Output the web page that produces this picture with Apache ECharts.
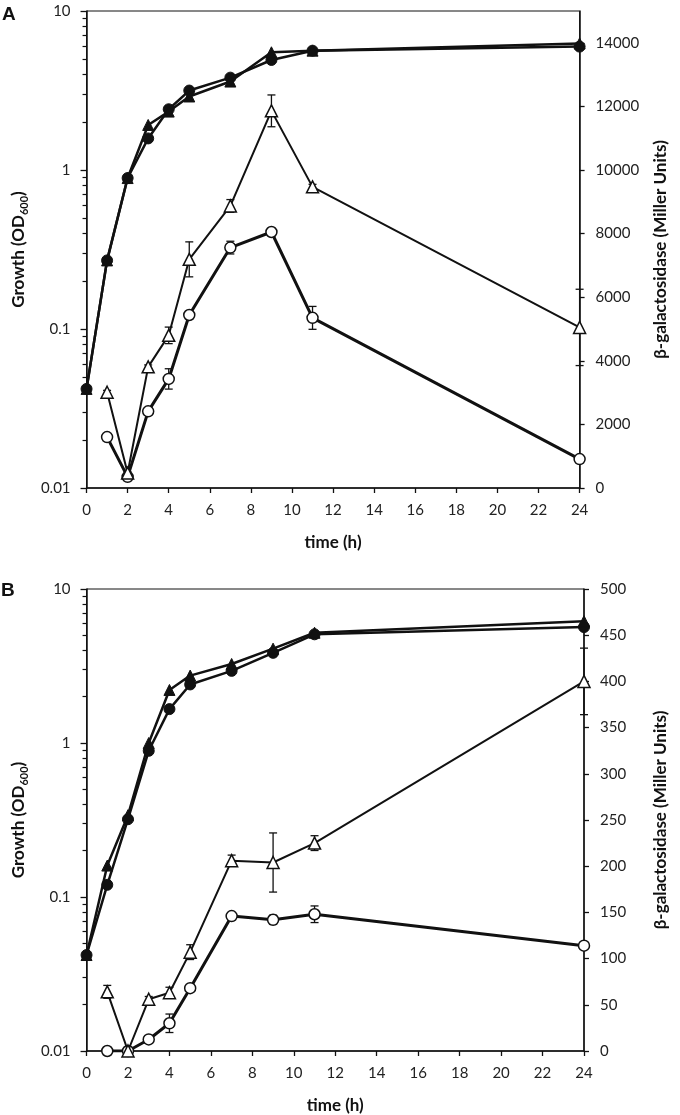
<!DOCTYPE html>
<html>
<head>
<meta charset="utf-8">
<script src="https://cdn.jsdelivr.net/npm/echarts@6/dist/echarts.min.js"></script>
<style>
html, body { margin: 0; padding: 0; background: #fff; }
#chart { width: 680px; height: 1115px; }
</style>
</head>
<body>
<div id="chart"></div>
<script>
// sampling times (h)
const times = [0, 1, 2, 3, 4, 5, 7, 9, 11, 24];
const bgalTimes = [1, 2, 3, 4, 5, 7, 9, 11, 24];

// panel A
const growthCircleA = [0.042, 0.27, 0.89, 1.58, 2.41, 3.16, 3.81, 4.92, 5.63, 5.97];
const growthTriangleA = [0.042, 0.27, 0.89, 1.92, 2.33, 2.9, 3.6, 5.5, 5.63, 6.25];
const bgalTriangleA = [3010, 470, 3810, 4800, 7190, 8870, 11860, 9470, 5050];
const bgalTriangleErrA = [60, 40, 60, 260, 550, 200, 500, 80, 1200];
const bgalCircleA = [1600, 350, 2410, 3430, 5440, 7560, 8050, 5350, 910];
const bgalCircleErrA = [80, 40, 50, 320, 60, 200, 50, 360, 50];

// panel B
const growthCircleB = [0.042, 0.12, 0.32, 0.89, 1.66, 2.4, 2.94, 3.85, 5.08, 5.66];
const growthTriangleB = [0.042, 0.16, 0.34, 1.0, 2.21, 2.74, 3.26, 4.1, 5.2, 6.18];
const bgalTriangleB = [64, 0, 56, 63, 107, 206, 204, 225, 400];
const bgalTriangleErrB = [7, 0, 3, 6, 8, 6, 32, 8, 36];
const bgalCircleB = [0, 0, 12.5, 30, 68, 146, 142, 148, 114];
const bgalCircleErrB = [0, 0, 2, 10, 3, 3, 5, 9, 3];

// tick values
const minorLogTicks = [0.02, 0.03, 0.04, 0.05, 0.06, 0.07, 0.08, 0.09,
  0.2, 0.3, 0.4, 0.5, 0.6, 0.7, 0.8, 0.9, 2, 3, 4, 5, 6, 7, 8, 9];
const rightTicksA = [0, 2000, 4000, 6000, 8000, 10000, 12000, 14000];
const rightTicksB = [0, 50, 100, 150, 200, 250, 300, 350, 400, 450, 500];

const FONT = 'Lato';
const INK = '#111';

const chart = echarts.init(document.getElementById('chart'));

const pairs = (xs, ys) => xs.map((x, i) => [x, ys[i]]);
const triples = (xs, ys, es) => xs.map((x, i) => [x, ys[i], es[i]]);

const labelStyle = { fontFamily: FONT, fontSize: 15, color: '#222' };
const nameStyle = {
  fontFamily: FONT, fontSize: 17, fontWeight: 'bold', color: INK, lineHeight: 22,
  rich: { s: { fontFamily: FONT, fontSize: 11, fontWeight: 'bold', color: INK, verticalAlign: 'bottom', lineHeight: 12 } },
};

function errorBars(p, data) {
  return {
    type: 'custom',
    xAxisIndex: p,
    yAxisIndex: p * 3 + 1,
    z: 1,
    silent: true,
    data,
    renderItem(params, api) {
      const x = api.value(0);
      const y = api.value(1);
      const e = api.value(2);
      const lo = api.coord([x, y - e]);
      const hi = api.coord([x, y + e]);
      const w = 4;
      const st = { stroke: INK, lineWidth: 1.3 };
      return {
        type: 'group',
        children: [
          { type: 'line', shape: { x1: lo[0], y1: lo[1], x2: hi[0], y2: hi[1] }, style: st },
          { type: 'line', shape: { x1: lo[0] - w, y1: lo[1], x2: lo[0] + w, y2: lo[1] }, style: st },
          { type: 'line', shape: { x1: hi[0] - w, y1: hi[1], x2: hi[0] + w, y2: hi[1] }, style: st },
        ],
      };
    },
  };
}

function panelSeries(p, gC, gT, bT, bTe, bC, bCe) {
  const filled = (data, symbol, size) => ({
    type: 'line', xAxisIndex: p, yAxisIndex: p * 3, data,
    symbol, symbolSize: size, showAllSymbol: true,
    itemStyle: { color: INK, borderColor: INK, borderWidth: 1 },
    lineStyle: { color: INK, width: 2.5 },
    z: 3,
  });
  const open = (data, symbol, size, width, z) => ({
    type: 'line', xAxisIndex: p, yAxisIndex: p * 3 + 1, data,
    symbol, symbolSize: size, showAllSymbol: true,
    itemStyle: { color: '#fff', borderColor: INK, borderWidth: 1.5 },
    lineStyle: { color: INK, width },
    z,
  });
  return [
    errorBars(p, triples(bgalTimes, bC, bCe)),
    errorBars(p, triples(bgalTimes, bT, bTe)),
    open(pairs(bgalTimes, bC), 'circle', 11, 3, 2),
    open(pairs(bgalTimes, bT), 'triangle', 12, 2, 3),
    filled(pairs(times, gC), 'circle', 11),
    filled(pairs(times, gT), 'triangle', 11),
  ];
}

function panelAxes(p, rightMax, rightTicks) {
  const xAxis = {
    type: 'value', gridIndex: p, min: 0, max: 24, interval: 2,
    name: 'time (h)', nameLocation: 'middle', nameGap: 46,
    nameTextStyle: { fontFamily: FONT, fontSize: 17, fontWeight: 'bold', color: INK },
    axisLine: { lineStyle: { color: INK, width: 1.5 } },
    axisTick: { length: 5, lineStyle: { color: INK, width: 1.3 } },
    axisLabel: Object.assign({ margin: 15 }, labelStyle),
    splitLine: { show: false },
  };
  const yLog = {
    type: 'log', logBase: 10, gridIndex: p, position: 'left', min: 0.01, max: 10,
    name: 'Growth (OD{s|600})', nameLocation: 'middle', nameGap: 56,
    nameTextStyle: nameStyle,
    axisLine: { show: true, lineStyle: { color: INK, width: 1.5 } },
    axisTick: { show: true, length: 6, lineStyle: { color: INK, width: 1.3 } },
    axisLabel: Object.assign({ margin: 16 }, labelStyle),
    splitLine: { show: false },
  };
  const yRight = {
    type: 'value', gridIndex: p, position: 'right', min: 0, max: rightMax,
    name: 'β-galactosidase (Miller Units)', nameLocation: 'middle', nameGap: 66,
    nameTextStyle: nameStyle,
    axisLine: { show: true, lineStyle: { color: INK, width: 1.5 } },
    axisTick: { show: true, length: 5, customValues: rightTicks, lineStyle: { color: INK, width: 1.3 } },
    axisLabel: Object.assign({ margin: 16, customValues: rightTicks, formatter: (v) => String(v) }, labelStyle),
    splitLine: { show: false },
  };
  const yMinor = {
    type: 'log', logBase: 10, gridIndex: p, position: 'left', min: 0.01, max: 10,
    axisLine: { show: false },
    axisTick: { show: true, length: 4, customValues: minorLogTicks, lineStyle: { color: INK, width: 1.2 } },
    axisLabel: { show: false },
    splitLine: { show: false },
  };
  return { xAxis, yAxes: [yLog, yRight, yMinor] };
}

const axA = panelAxes(0, 15000, rightTicksA);
const axB = panelAxes(1, 500, rightTicksB);

const option = {
  backgroundColor: '#fff',
  animation: false,
  grid: [
    { left: 78, top: 11, width: 516, height: 477, show: true, borderColor: INK, borderWidth: 1, backgroundColor: 'transparent' },
    { left: 78, top: 589, width: 518, height: 467, show: true, borderColor: INK, borderWidth: 1, backgroundColor: 'transparent' },
  ],
  graphic: [
    { type: 'text', left: 2, top: 5, style: { text: 'A', font: 'bold 19px "Liberation Sans", Arial', fill: INK } },
    { type: 'text', left: 1, top: 581, style: { text: 'B', font: 'bold 19px "Liberation Sans", Arial', fill: INK } },
  ],
  xAxis: [axA.xAxis, axB.xAxis],
  yAxis: axA.yAxes.concat(axB.yAxes),
  series: panelSeries(0, growthCircleA, growthTriangleA, bgalTriangleA, bgalTriangleErrA, bgalCircleA, bgalCircleErrA)
    .concat(panelSeries(1, growthCircleB, growthTriangleB, bgalTriangleB, bgalTriangleErrB, bgalCircleB, bgalCircleErrB)),
};

chart.setOption(option);
</script>
</body>
</html>
